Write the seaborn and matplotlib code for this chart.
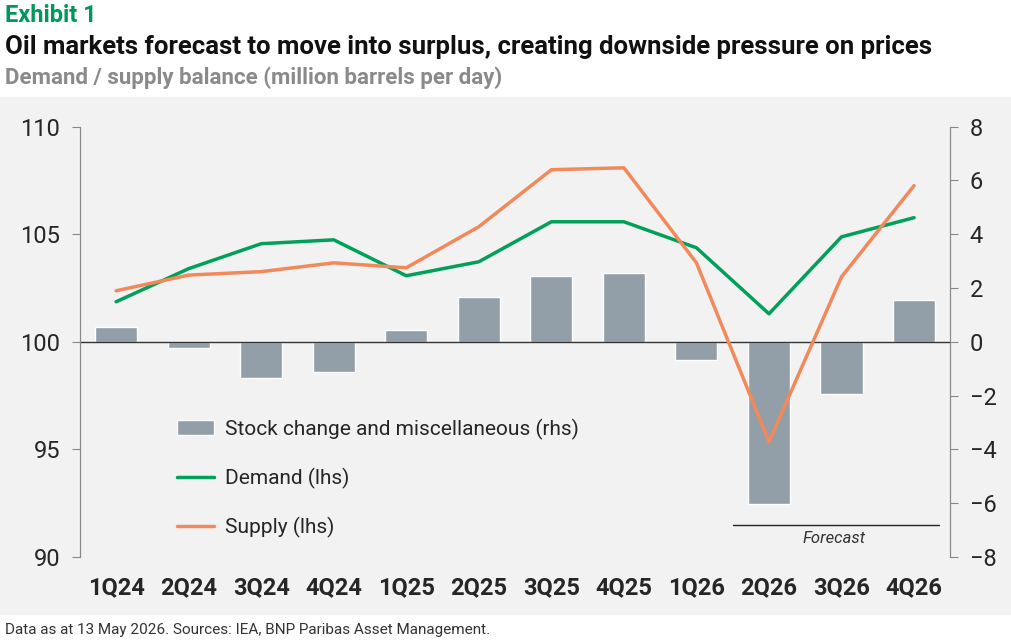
import matplotlib
matplotlib.use("Agg")
import matplotlib.pyplot as plt
import seaborn as sns
import pandas as pd
import numpy as np

quarters = ["1Q24", "2Q24", "3Q24", "4Q24", "1Q25", "2Q25", "3Q25", "4Q25", "1Q26", "2Q26", "3Q26", "4Q26"]
stock_change = [0.56, -0.22, -1.34, -1.12, 0.45, 1.67, 2.45, 2.56, -0.67, -6.02, -1.93, 1.56]
demand = [101.86, 103.4, 104.56, 104.74, 103.07, 103.72, 105.58, 105.58, 104.37, 101.3, 104.88, 105.77]
supply = [102.37, 103.1, 103.26, 103.67, 103.44, 105.35, 108.0, 108.09, 103.67, 95.35, 103.02, 107.26]

df = pd.DataFrame({"q": quarters, "stock": stock_change, "demand": demand, "supply": supply})

sns.set_style("white")
plt.rcParams["font.family"] = ["Roboto", "DejaVu Sans"]

GREEN = "#00A05A"
ORANGE = "#F2895A"
GREY = "#939FA8"
BG = "#F2F2F2"

fig = plt.figure(figsize=(10.11, 6.40), dpi=100)
fig.patches.append(plt.Rectangle((0, 0.04), 1, 0.808, transform=fig.transFigure, color=BG, zorder=-10))

ax2 = fig.add_axes([0.079, 0.13, 0.861, 0.672])
ax = ax2.twinx()
ax2.yaxis.tick_right()
ax.yaxis.tick_left()

x = np.arange(len(quarters))
sns.barplot(data=df, x="q", y="stock", ax=ax2, color=GREY, width=0.58, saturation=1, zorder=2,
            label="Stock change and miscellaneous (rhs)", legend=False)
if ax2.get_legend():
    ax2.get_legend().remove()
ax2.set_ylim(-8, 8)
ax2.set_yticks(range(-8, 9, 2))
ax2.axhline(0, color="#333333", lw=1, zorder=3)

ax.plot(x, df["demand"], color=GREEN, lw=2.5, label="Demand (lhs)")
ax.plot(x, df["supply"], color=ORANGE, lw=2.5, label="Supply (lhs)")
ax.set_ylim(90, 110)
ax.set_yticks(range(90, 111, 5))
ax.set_xlim(-0.5, 11.5)

for a in (ax, ax2):
    a.set_facecolor("none")
    a.set_xlabel("")
    a.set_ylabel("")
    for s in ["top", "bottom"]:
        a.spines[s].set_visible(False)
    a.spines["left"].set_color("#888888")
    a.spines["right"].set_color("#888888")
    a.tick_params(labelsize=17, length=0, pad=8)
ax2.tick_params(axis="x", labelsize=17, pad=14)
ax.tick_params(axis="y", direction="out", length=6, color="#888888")
ax2.tick_params(axis="y", direction="out", length=6, color="#888888")
for lab in ax2.get_xticklabels():
    lab.set_fontweight("bold")

h1, l1 = ax2.get_legend_handles_labels()
h2, l2 = ax.get_legend_handles_labels()
ax.legend(h1 + h2, l1 + l2, loc="lower left", bbox_to_anchor=(0.09, 0.0), frameon=False,
          fontsize=15, labelspacing=1.35, handlelength=1.8, handletextpad=0.5)

# forecast marker
ax.plot([8.5, 11.35], [91.5, 91.5], color="#222222", lw=1, clip_on=False)
ax.text(9.9, 90.85, "Forecast", fontsize=12, style="italic", color="#333333", ha="center", va="center")

fig.text(0.005, 0.975, "Exhibit 1", fontsize=17, fontweight="bold", color="#00985A", va="center")
fig.text(0.005, 0.927, "Oil markets forecast to move into surplus, creating downside pressure on prices",
         fontsize=18.5, fontweight="bold", color="#111111", va="center")
fig.text(0.005, 0.878, "Demand / supply balance (million barrels per day)", fontsize=16,
         fontweight="bold", color="#8A8A8A", va="center")
fig.text(0.005, 0.015, "Data as at 13 May 2026. Sources: IEA, BNP Paribas Asset Management.",
         fontsize=11, color="#333333", va="center")

fig.savefig("out.png", dpi=100)
